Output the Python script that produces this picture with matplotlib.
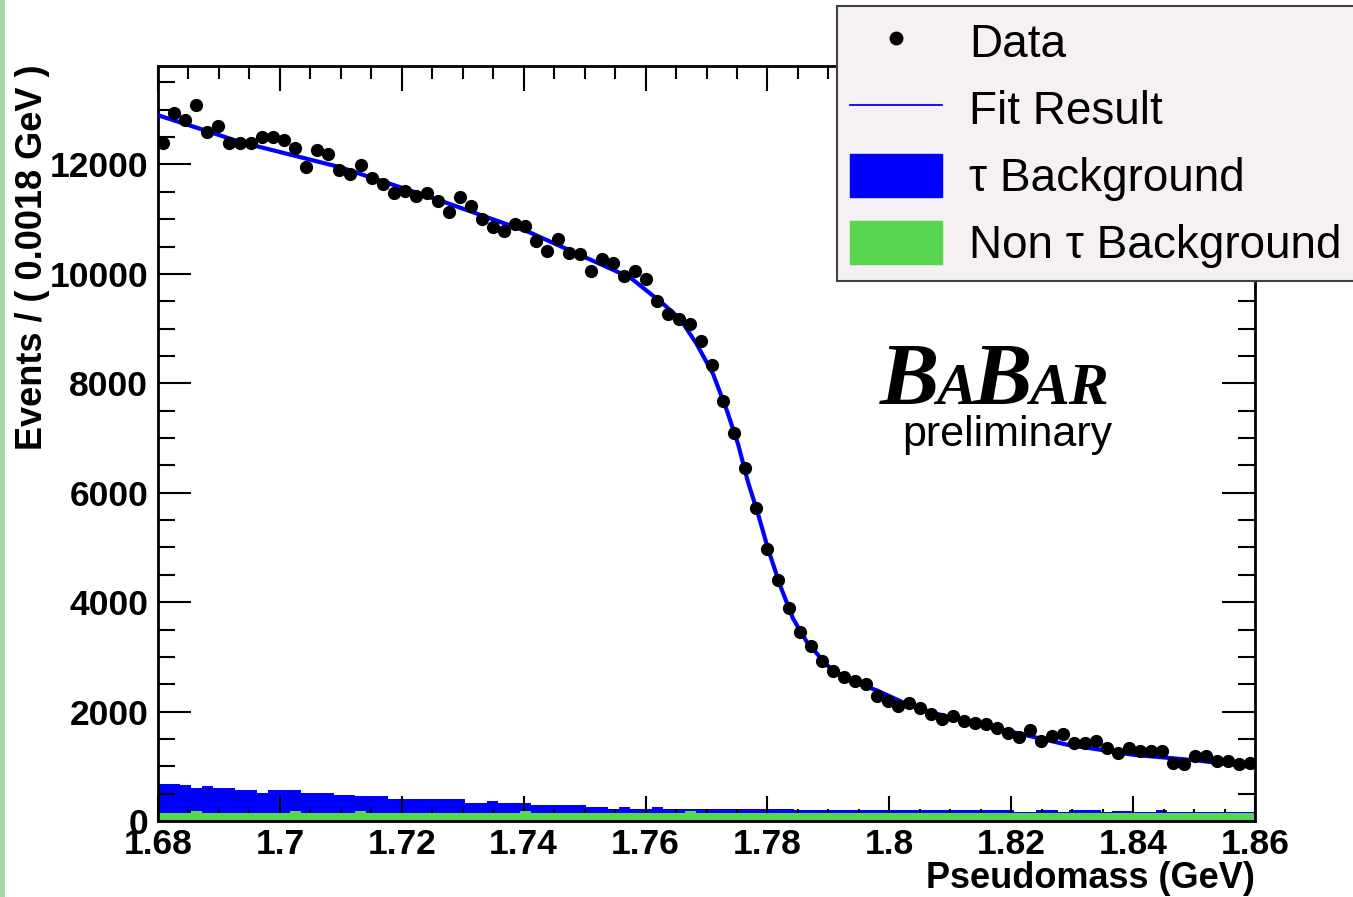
import numpy as np
import matplotlib
matplotlib.use("Agg")
import matplotlib.pyplot as plt
from matplotlib.lines import Line2D
from matplotlib.patches import Patch, Rectangle
from matplotlib.ticker import MultipleLocator, FuncFormatter

# ---------------- data ----------------
x_min, x_max, n_bins = 1.68, 1.86, 100

data_counts = [
    12385, 12935, 12807, 13080, 12590, 12700, 12385, 12385, 12385, 12495,
    12495, 12440, 12294, 11963, 12257, 12183, 11890, 11817, 11982, 11761,
    11651, 11486, 11523, 11431, 11486, 11340, 11125, 11400, 11248, 11003,
    10850, 10789, 10911, 10881, 10606, 10422, 10642, 10391, 10361, 10055,
    10269, 10208, 9963, 10055, 9902, 9505, 9260, 9168, 9076, 8770,
    8343, 7670, 7089, 6446, 5712, 4978, 4398, 3890, 3450, 3205,
    2930, 2747, 2624, 2563, 2502, 2288, 2196, 2100, 2165, 2073,
    1951, 1859, 1920, 1829, 1798, 1768, 1706, 1600, 1530, 1657,
    1468, 1560, 1584, 1431, 1431, 1468, 1339, 1250, 1339, 1284,
    1284, 1284, 1064, 1033, 1193, 1193, 1101, 1101, 1033, 1064,
]

nontau_bg = [
    140, 140, 140, 185, 140, 140, 140, 140, 140, 140,
    140, 140, 185, 140, 140, 140, 140, 140, 185, 140,
    140, 140, 140, 140, 140, 140, 140, 140, 140, 140,
    140, 140, 140, 185, 140, 140, 140, 140, 140, 140,
    140, 140, 140, 140, 140, 140, 140, 140, 185, 140,
    140, 140, 140, 140, 140, 140, 140, 140, 140, 140,
    140, 140, 140, 140, 140, 140, 140, 140, 140, 140,
    140, 140, 140, 140, 140, 140, 140, 140, 140, 140,
    140, 140, 140, 140, 140, 140, 140, 140, 140, 140,
    140, 140, 140, 140, 140, 140, 140, 140, 140, 140,
]

tau_bg = [
    545, 545, 512, 421, 505, 466, 466, 426, 426, 380,
    426, 426, 381, 380, 380, 380, 342, 342, 264, 309,
    309, 270, 270, 270, 270, 270, 270, 270, 184, 184,
    224, 184, 184, 139, 146, 146, 146, 146, 146, 113,
    113, 87, 125, 87, 87, 125, 87, 87, 42, 75,
    75, 75, 75, 75, 75, 75, 75, 75, 52, 52,
    52, 52, 52, 52, 52, 52, 52, 52, 52, 52,
    52, 52, 52, 59, 59, 59, 59, 59, 29, 29,
    52, 52, 29, 52, 52, 52, 29, 45, 45, 29,
    29, 59, 29, 29, 29, 29, 29, 29, 29, 29,
]

# fit result read at points along the curve
fit_x = [1.6800, 1.6869, 1.6935, 1.7099, 1.7263, 1.7410, 1.7514, 1.7575,
         1.7629, 1.7657, 1.7684, 1.7711, 1.7734, 1.7752, 1.7768, 1.7785,
         1.7801, 1.7821, 1.7842, 1.7865, 1.7898, 1.7931, 1.7980, 1.8034,
         1.8088, 1.8173, 1.8292, 1.8400, 1.8510, 1.8600]
fit_y = [12900, 12652, 12410, 11950, 11340, 10758, 10238, 9933,
         9450, 9174, 8716, 8165, 7486, 6881, 6200, 5596,
         4972, 4300, 3700, 3266, 2844, 2587, 2385, 2110,
         1927, 1700, 1394, 1211, 1101, 980]

y_ticks = [0, 2000, 4000, 6000, 8000, 10000, 12000]
x_ticks = [1.68, 1.70, 1.72, 1.74, 1.76, 1.78, 1.80, 1.82, 1.84, 1.86]

legend_labels = ["Data", "Fit Result", "\u03c4 Background", "Non \u03c4 Background"]

# ---------------- styling ----------------
W, H, DPI = 1353, 897, 100
BLUE = "#0000FF"
GREEN = "#58D650"
SANS = ["Liberation Sans", "DejaVu Sans"]
SERIF = ["Liberation Serif", "DejaVu Serif"]
plt.rcParams["font.family"] = SANS

fig = plt.figure(figsize=(W / DPI, H / DPI), dpi=DPI, facecolor="white")

def fx(px):
    return px / W

def fy(py):
    return 1 - py / H

ax_left, ax_right, ax_top, ax_bot = 158, 1255, 66, 821
ax = fig.add_axes([fx(ax_left), fy(ax_bot), (ax_right - ax_left) / W, (ax_bot - ax_top) / H])

edges = np.linspace(x_min, x_max, n_bins + 1)
centers = 0.5 * (edges[:-1] + edges[1:])
data_counts = np.asarray(data_counts, float)
nontau = np.asarray(nontau_bg, float)
tau = np.asarray(tau_bg, float)

# stacked background
ax.stairs(nontau + tau, edges, fill=True, color=BLUE, zorder=1, baseline=0)
ax.stairs(nontau, edges, fill=True, color=GREEN, zorder=2, baseline=0)

# fit
ax.plot(fit_x, fit_y, color=BLUE, lw=3.0, zorder=3, solid_joinstyle="round",
        solid_capstyle="butt")

# data
ax.errorbar(centers, data_counts, yerr=np.sqrt(data_counts), fmt="o", color="black",
            ms=8.5, elinewidth=1.3, capsize=0, zorder=4)

ax.set_xlim(x_min, x_max)
ax.set_ylim(0, 13800)

ax.set_xticks(x_ticks)
ax.xaxis.set_major_formatter(FuncFormatter(lambda v, p: f"{v:g}"))
ax.xaxis.set_minor_locator(MultipleLocator(0.005))
ax.set_yticks(y_ticks)
ax.yaxis.set_minor_locator(MultipleLocator(500))

ax.tick_params(axis="both", which="both", direction="in", top=True, right=True,
               width=1.5, colors="black")
ax.tick_params(axis="y", which="major", length=24, labelsize=25.5, pad=7)
ax.tick_params(axis="y", which="minor", length=12.5)
ax.tick_params(axis="x", which="major", length=18, labelsize=25.5, pad=5)
ax.tick_params(axis="x", which="minor", length=9)
for lab in ax.get_xticklabels() + ax.get_yticklabels():
    lab.set_fontweight("bold")
for s in ax.spines.values():
    s.set_linewidth(2.0)

ax.set_xlabel("Pseudomass (GeV)", fontsize=26, fontweight="bold")
ax.xaxis.set_label_coords(fx(1255), fy(878), transform=fig.transFigure)
ax.xaxis.label.set_horizontalalignment("right")
ax.xaxis.label.set_verticalalignment("center")

ax.set_ylabel("Events / ( 0.0018 GeV )", fontsize=26, fontweight="bold")
ax.yaxis.set_label_coords(fx(33), fy(64), transform=fig.transFigure)
ax.yaxis.label.set_rotation_mode("anchor")
ax.yaxis.label.set_horizontalalignment("right")
ax.yaxis.label.set_verticalalignment("center")

# legend
handles = [
    Line2D([], [], ls="none", marker="o", color="black", ms=9),
    Line2D([], [], color=BLUE, lw=1.3),
    Patch(facecolor=BLUE, edgecolor=BLUE),
    Patch(facecolor=GREEN, edgecolor=GREEN),
]
leg = fig.legend(handles, legend_labels, loc="upper left",
                 bbox_to_anchor=(fx(837), fy(6)), bbox_transform=fig.transFigure,
                 fontsize=33, frameon=True, fancybox=False, shadow=False,
                 handlelength=2.0, handleheight=1.09, handletextpad=0.6,
                 labelspacing=0.43, borderpad=0.29, borderaxespad=0)
leg.get_frame().set_facecolor("#F4F0F4")
leg.get_frame().set_edgecolor("#404040")
leg.get_frame().set_linewidth(1.5)
leg.get_frame().set_alpha(1)

# BABAR logo, pieces placed one after another
renderer = fig.canvas.get_renderer()
xpos = 880
for txt, size in [("B", 64), ("A", 43), ("B", 64), ("AR", 43)]:
    t = fig.text(fx(xpos), fy(404), txt, fontsize=size, fontweight="bold",
                 fontstyle="italic", family=SERIF, ha="left", va="baseline")
    bb = t.get_window_extent(renderer)
    xpos = bb.x1 - 3
fig.text(fx(1112), fy(435), "preliminary", fontsize=31, ha="right", va="center")

# left border strip
fig.add_artist(Rectangle((0, 0), fx(5), 1, transform=fig.transFigure,
                         facecolor="#A6D6A6", edgecolor="none"))

fig.savefig("out.png", dpi=DPI, facecolor="white")
